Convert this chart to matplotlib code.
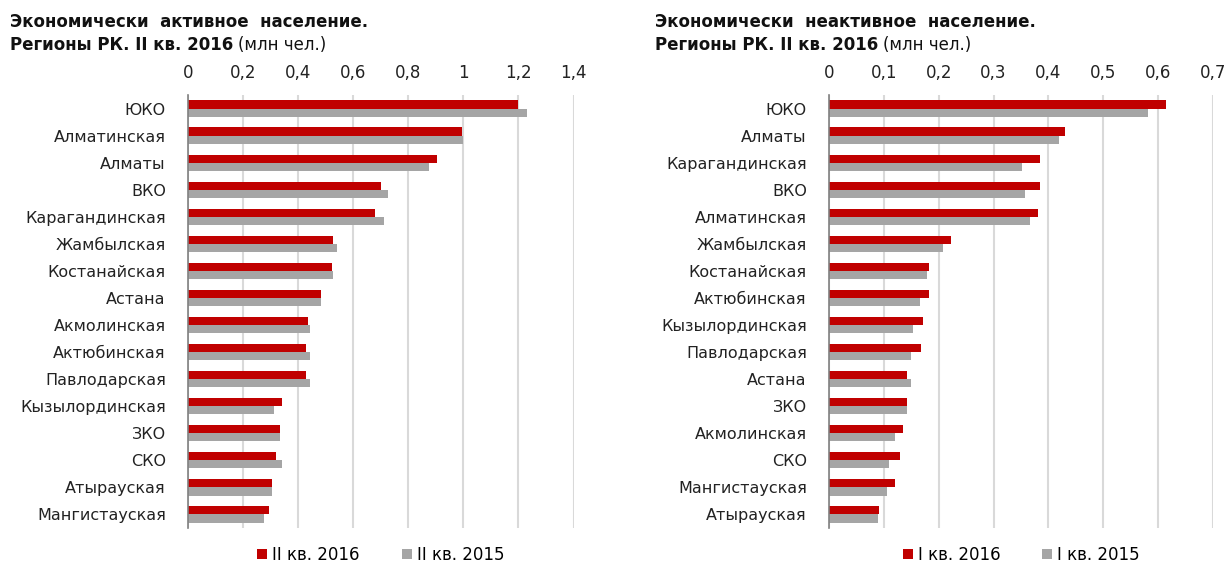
import numpy as np
import matplotlib.pyplot as plt

# Данные: экономически активное население (млн чел.)
regions_act = ['ЮКО', 'Алматинская', 'Алматы', 'ВКО', 'Карагандинская', 'Жамбылская',
               'Костанайская', 'Астана', 'Акмолинская', 'Актюбинская', 'Павлодарская',
               'Кызылординская', 'ЗКО', 'СКО', 'Атырауская', 'Мангистауская']
act_2016 = [1.20, 0.994, 0.906, 0.700, 0.678, 0.528, 0.522, 0.484, 0.434, 0.427, 0.427,
            0.341, 0.334, 0.320, 0.306, 0.293]
act_2015 = [1.23, 1.00, 0.877, 0.728, 0.713, 0.542, 0.528, 0.484, 0.442, 0.442, 0.442,
            0.313, 0.334, 0.341, 0.306, 0.276]
act_ticks = [0, 0.2, 0.4, 0.6, 0.8, 1, 1.2, 1.4]

# Данные: экономически неактивное население (млн чел.)
regions_inact = ['ЮКО', 'Алматы', 'Карагандинская', 'ВКО', 'Алматинская', 'Жамбылская',
                 'Костанайская', 'Актюбинская', 'Кызылординская', 'Павлодарская', 'Астана',
                 'ЗКО', 'Акмолинская', 'СКО', 'Мангистауская', 'Атырауская']
inact_2016 = [0.615, 0.430, 0.384, 0.384, 0.381, 0.222, 0.182, 0.182, 0.172, 0.168, 0.143,
              0.143, 0.135, 0.129, 0.120, 0.092]
inact_2015 = [0.582, 0.420, 0.352, 0.358, 0.366, 0.208, 0.179, 0.165, 0.153, 0.149, 0.149,
              0.143, 0.120, 0.110, 0.106, 0.089]
inact_ticks = [0, 0.1, 0.2, 0.3, 0.4, 0.5, 0.6, 0.7]

RED = '#C00000'
GRAY = '#A5A5A5'
W, H = 1229, 565

fig = plt.figure(figsize=(W / 100, H / 100), dpi=100)


def px_axes(x0, y0, x1, y1):
    return fig.add_axes([x0 / W, 1 - y1 / H, (x1 - x0) / W, (y1 - y0) / H])


def draw_panel(ax, cats, v16, v15, ticks, lab16, lab15):
    y = np.arange(len(cats))
    h = 0.3
    ax.barh(y - h / 2, v16, height=h, color=RED, label=lab16, zorder=3)
    ax.barh(y + h / 2, v15, height=h, color=GRAY, label=lab15, zorder=3)
    ax.set_ylim(len(cats) - 0.5, -0.5)
    ax.set_xlim(ticks[0], ticks[-1])
    ax.set_xticks(ticks)
    ax.set_xticklabels([('%g' % t).replace('.', ',') for t in ticks])
    ax.xaxis.tick_top()
    ax.set_yticks(y)
    ax.set_yticklabels(cats)
    ax.tick_params(axis='x', length=0, pad=9, labelsize=12, labelcolor='#222222')
    ax.tick_params(axis='y', length=0, pad=16, labelsize=11.5, labelcolor='#222222')
    ax.grid(axis='x', color='#D9D9D9', lw=1.5, zorder=0)
    for s in ['top', 'right', 'bottom']:
        ax.spines[s].set_visible(False)
    ax.spines['left'].set_color('#808080')
    ax.spines['left'].set_linewidth(1.2)
    ax.spines['left'].set_zorder(4)
    ax.legend(loc='center', bbox_to_anchor=(0.5, -(555 - 528) / 433), ncol=2, frameon=False,
              fontsize=12, handlelength=0.6, handleheight=0.6, handletextpad=0.3,
              columnspacing=2.5, borderpad=0.1)


ax1 = px_axes(188, 95, 573.5, 528)
draw_panel(ax1, regions_act, act_2016, act_2015, act_ticks, 'II кв. 2016', 'II кв. 2015')

ax2 = px_axes(829, 95, 1213, 528)
draw_panel(ax2, regions_inact, inact_2016, inact_2015, inact_ticks, 'I кв. 2016', 'I кв. 2015')

# Заголовки
titles = [(10, 'Экономически  активное  население.'),
          (655, 'Экономически  неактивное  население.')]
fig.canvas.draw()
renderer = fig.canvas.get_renderer()
for x0, line1 in titles:
    fig.text(x0 / W, 1 - 22 / H, line1, fontsize=12, fontweight='bold', va='center', color='#111111')
    t2 = fig.text(x0 / W, 1 - 45 / H, 'Регионы РК. II кв. 2016', fontsize=12, fontweight='bold',
                  va='center', color='#111111')
    bb = t2.get_window_extent(renderer=renderer)
    fig.text((bb.x1 + 5) / W, 1 - 45 / H, '(млн чел.)', fontsize=12, va='center', color='#111111')

fig.savefig('out.png', dpi=100)
